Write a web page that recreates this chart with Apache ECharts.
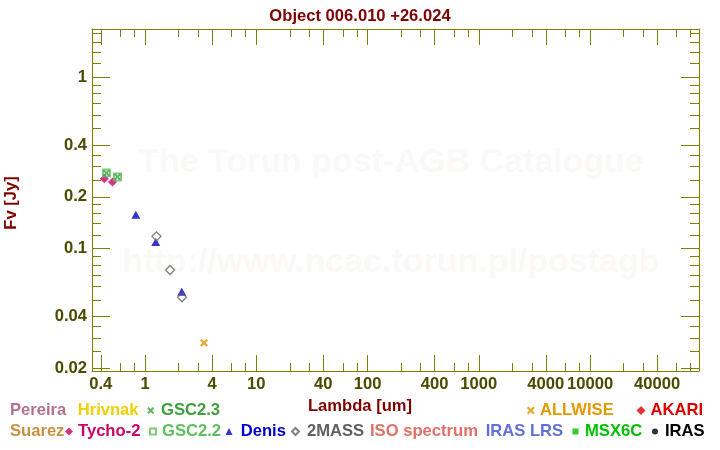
<!DOCTYPE html>
<html><head><meta charset="utf-8">
<script src="https://cdn.jsdelivr.net/npm/echarts@6/dist/echarts.min.js"></script>
<style>html,body{margin:0;padding:0;background:#fff}#c{width:720px;height:450px}</style>
</head><body><div id="c"></div>
<script>
// ---------- data ----------
const chartTitle = 'Object 006.010 +26.024';
const xName = 'Lambda [um]';
const yName = 'Fv [Jy]';
const xMajorTicks = [0.4, 1, 4, 10, 40, 100, 400, 1000, 4000, 10000, 40000];
const xTickLabels = ['0.4', '1', '4', '10', '40', '100', '400', '1000', '4000', '10000', '40000'];
const xMinorTicks = [0.6, 0.8, 2, 3, 6, 8, 20, 30, 60, 80, 200, 300, 600, 800, 2000, 3000, 6000, 8000, 20000, 30000, 60000, 80000];
const yMajorTicks = [0.02, 0.04, 0.1, 0.2, 0.4, 1];
const yTickLabels = ['0.02', '0.04', '0.1', '0.2', '0.4', '1'];
const yMinorTicks = [0.025, 0.03, 0.035, 0.05, 0.06, 0.07, 0.08, 0.09, 0.12, 0.14, 0.16, 0.18, 0.25, 0.3, 0.35, 0.5, 0.6, 0.7, 0.8, 0.9, 1.2, 1.4, 1.6, 1.8];

const tycho2 = [[0.43, 0.255], [0.51, 0.244]];
const gsc22 = [[0.45, 0.275], [0.565, 0.261]];
const gsc23 = [[0.45, 0.275], [0.565, 0.261]];
const denis = [[0.827, 0.157], [1.248, 0.109], [2.138, 0.0559]];
const twoMass = [[1.266, 0.1175], [1.678, 0.0748], [2.15, 0.0518]];
const allwise = [[3.387, 0.0281]];
const emptySet = [];

// ---------- style ----------
const FONT = 'Liberation Sans, Arial, sans-serif';
const FS = 16.6;
const olive = '#808000';
const tickText = '#4b4b00';
const maroon = '#800000';
const X_MIN = 0.3335, X_MAX = 95300, Y_MIN = 0.01925, Y_MAX = 1.905;
const crossPath = 'path://M0,2 L2,0 L5,3 L8,0 L10,2 L7,5 L10,8 L8,10 L5,7 L2,10 L0,8 L3,5 Z';

function fmt(ticks, labels) {
  return function (v) {
    let best = 0, bd = Infinity;
    ticks.forEach((t, i) => { const d = Math.abs(Math.log10(t) - Math.log10(v)); if (d < bd) { bd = d; best = i; } });
    return labels[best];
  };
}

function xAx(pos, ticks, len, main) {
  return {
    type: 'log', logBase: 10, min: X_MIN, max: X_MAX, position: pos, gridIndex: 0,
    axisLine: { show: main, onZero: false, lineStyle: { color: olive, width: 1 } },
    axisTick: { show: true, inside: true, length: len, customValues: ticks, lineStyle: { color: olive, width: 1 } },
    axisLabel: (main && pos === 'bottom') ? {
      show: true, customValues: xMajorTicks, formatter: fmt(xMajorTicks, xTickLabels), margin: 5,
      color: tickText, fontSize: FS, fontWeight: 'bold', fontFamily: FONT, showMinLabel: true, showMaxLabel: true
    } : { show: false },
    splitLine: { show: false }, minorTick: { show: false }, minorSplitLine: { show: false },
    name: (main && pos === 'bottom') ? xName : '',
    nameLocation: 'middle', nameGap: 25,
    nameTextStyle: { color: maroon, fontSize: FS, fontWeight: 'bold', fontFamily: FONT, padding: [0, 71, 0, 0] }
  };
}
function yAx(pos, ticks, len, main) {
  return {
    type: 'log', logBase: 10, min: Y_MIN, max: Y_MAX, position: pos, gridIndex: 0,
    axisLine: { show: main, onZero: false, lineStyle: { color: olive, width: 1 } },
    axisTick: { show: true, inside: true, length: len, customValues: ticks, lineStyle: { color: olive, width: 1 } },
    axisLabel: (main && pos === 'left') ? {
      show: true, customValues: yMajorTicks, formatter: fmt(yMajorTicks, yTickLabels), margin: 5,
      color: tickText, fontSize: FS, fontWeight: 'bold', fontFamily: FONT, showMinLabel: true, showMaxLabel: true
    } : { show: false },
    splitLine: { show: false }, minorTick: { show: false }, minorSplitLine: { show: false },
    name: (main && pos === 'left') ? yName : '',
    nameLocation: 'middle', nameGap: 72,
    nameTextStyle: { color: maroon, fontSize: FS, fontWeight: 'bold', fontFamily: FONT, padding: [0, 6, 0, 0] }
  };
}

const legendEntries = [
  { name: 'Pereira', color: '#b4708f', row: 0, left: 5, size: 0, pad: 0, icon: 'none' },
  { name: 'Hrivnak', color: '#f0d000', row: 0, left: 72.7, size: 0, pad: 0, icon: 'none' },
  { name: 'GSC2.3', color: '#3c9f3c', row: 0, left: 147.2, size: 7, pad: 1.8 },
  { name: 'ALLWISE', color: '#e09a00', row: 0, left: 526.8, size: 8, pad: 0.2 },
  { name: 'AKARI', color: '#dd0000', row: 0, left: 636.5, size: 9, pad: 0 },
  { name: 'Suarez', color: '#c89040', row: 1, left: 5, size: 0, pad: 0, icon: 'none' },
  { name: 'Tycho-2', color: '#cc0066', row: 1, left: 65, size: 8, pad: 0 },
  { name: 'GSC2.2', color: '#5fbf5f', row: 1, left: 149, size: 6, pad: 1 },
  { name: 'Denis', color: '#0000cc', row: 1, left: 225.5, size: 7, pad: 3.2 },
  { name: '2MASS', color: '#606060', row: 1, left: 291, size: 7, pad: 3 },
  { name: 'ISO spectrum', color: '#e07068', row: 1, left: 365, size: 0, pad: 0, icon: 'none' },
  { name: 'IRAS LRS', color: '#6070d8', row: 1, left: 480.7, size: 0, pad: 0, icon: 'none' },
  { name: 'MSX6C', color: '#00c000', row: 1, left: 572.5, size: 6, pad: 1.5 },
  { name: 'IRAS', color: '#000000', row: 1, left: 652, size: 6, pad: 2 }
];
const rowCenter = [408.5, 429.5];

function sc(name, data, symbol, size, style, z) {
  return { type: 'scatter', name: name, data: data, symbol: symbol, symbolSize: size, itemStyle: style,
    xAxisIndex: 0, yAxisIndex: 0, z: z || 2, emphasis: { disabled: true }, silent: true };
}

const option = {
  animation: false,
  backgroundColor: '#ffffff',
  title: { text: chartTitle, left: 'center', top: 3,
    textStyle: { color: maroon, fontSize: FS, fontWeight: 'bold', fontFamily: FONT } },
  grid: { left: 92, right: 21, top: 29, bottom: 79, containLabel: false, outerBoundsMode: 'none' },
  graphic: [
    { type: 'text', z: 0, silent: true, style: { text: 'The Torun post-AGB Catalogue', x: 391, y: 163, textAlign: 'center', textVerticalAlign: 'middle', font: 'bold 34px ' + FONT, fill: '#faf9f7' } },
    { type: 'text', z: 0, silent: true, style: { text: 'http://www.ncac.torun.pl/postagb', x: 391, y: 263, textAlign: 'center', textVerticalAlign: 'middle', font: 'bold 34px ' + FONT, fill: '#faf9f7' } }
  ],
  xAxis: [xAx('bottom', xMajorTicks, 16, true), xAx('bottom', xMinorTicks, 8, false), xAx('top', xMajorTicks, 16, true), xAx('top', xMinorTicks, 8, false)],
  yAxis: [yAx('left', yMajorTicks, 18, true), yAx('left', yMinorTicks, 9, false), yAx('right', yMajorTicks, 18, true), yAx('right', yMinorTicks, 9, false)],
  legend: legendEntries.map(e => ({
    data: [e.icon ? { name: e.name, icon: e.icon } : { name: e.name }],
    left: e.left, top: rowCenter[e.row] - 6.5,
    itemWidth: e.size, itemHeight: e.size, padding: 0, selectedMode: false,
    textStyle: { color: e.color, fontSize: FS, fontWeight: 'bold', fontFamily: FONT, padding: [0, 0, 0, e.pad] }
  })),
  series: [
    sc('Pereira', emptySet, 'circle', 6, { color: '#b4708f' }),
    sc('Hrivnak', emptySet, 'circle', 6, { color: '#f0d000' }),
    sc('Suarez', emptySet, 'circle', 6, { color: '#c89040' }),
    sc('ISO spectrum', emptySet, 'circle', 6, { color: '#e07068' }),
    sc('IRAS LRS', emptySet, 'circle', 6, { color: '#6070d8' }),
    sc('AKARI', emptySet, 'diamond', 9, { color: '#dd0000' }),
    sc('MSX6C', emptySet, 'rect', 6, { color: '#00c000' }),
    sc('IRAS', emptySet, 'circle', 6, { color: '#000000' }),
    sc('Tycho-2', tycho2, 'diamond', 9, { color: '#cc0066' }, 3),
    sc('GSC2.2', gsc22, 'rect', 7, { color: 'transparent', borderColor: '#5fbf5f', borderWidth: 2 }, 4),
    sc('GSC2.3', gsc23, crossPath, 7, { color: '#3c9f3c' }, 5),
    sc('Denis', denis, 'triangle', [9, 8], { color: '#0000cc' }, 3),
    sc('2MASS', twoMass, 'diamond', 9, { color: 'transparent', borderColor: '#606060', borderWidth: 1.3 }, 4),
    sc('ALLWISE', allwise, crossPath, 8, { color: '#e09000' }, 3)
  ]
};
const chart = echarts.init(document.getElementById('c'), null, { renderer: 'canvas' });
chart.setOption(option);
</script></body></html>
